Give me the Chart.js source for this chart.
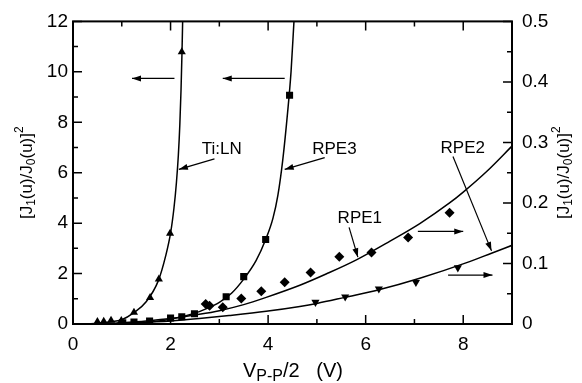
<!DOCTYPE html>
<html>
<head>
<meta charset="utf-8">
<script src="https://cdn.jsdelivr.net/npm/chart.js@4"></script>
<style>
  html, body { margin: 0; padding: 0; background: #fff; }
</style>
</head>
<body>
<canvas id="myChart" width="582" height="383"></canvas>
<script>
// measured points (left axis: Ti:LN, RPE3 ; right axis: RPE1, RPE2)
let tiX = [0.50, 0.63, 0.78, 0.99, 1.25, 1.58, 1.76, 1.99, 2.23];
let tiY = [0.09, 0.10, 0.14, 0.13, 0.46, 1.04, 1.78, 3.59, 10.79];
let rpe3X = [1.02, 1.25, 1.57, 2.0, 2.23, 2.49, 3.14, 3.50, 3.95, 4.44];
let rpe3Y = [0.05, 0.08, 0.12, 0.24, 0.29, 0.41, 1.08, 1.88, 3.35, 9.07];
let rpe1X = [2.72, 2.80, 3.07, 3.45, 3.86, 4.34, 4.87, 5.46, 6.12, 6.87, 7.72];
let rpe1Y = [0.033, 0.030, 0.0275, 0.042, 0.054, 0.069, 0.085, 0.111, 0.118, 0.143, 0.184];
let rpe2X = [4.97, 5.58, 6.27, 7.03, 7.89];
let rpe2Y = [0.036, 0.045, 0.058, 0.069, 0.093];

// fitted curves
let tiFitX = [0.3, 0.5, 0.75, 1.0, 1.25, 1.5, 1.75, 1.9, 2.0, 2.07, 2.12, 2.16, 2.19, 2.215, 2.235, 2.25];
let tiFitY = [0, 0.03, 0.08, 0.17, 0.45, 0.88, 1.72, 2.7, 3.6, 4.6, 5.6, 6.7, 7.9, 9.3, 10.8, 12.2];
let rpe3FitX = [0.8, 1.1, 1.5, 2.0, 2.5, 2.75, 3.0, 3.25, 3.5, 3.75, 3.95, 4.1, 4.2, 4.3, 4.4, 4.47, 4.53];
let rpe3FitY = [0, 0.02, 0.07, 0.19, 0.43, 0.62, 0.86, 1.22, 1.78, 2.5, 3.35, 4.2, 5.1, 6.5, 8.4, 10.0, 12.0];
let rpe1FitX = [0.6, 1.0, 1.5, 2.0, 2.59, 3.0, 3.5, 3.96, 4.65, 5.2, 5.81, 6.5, 7.11, 7.72, 8.0, 8.48, 9.0];
let rpe1FitY = [0, 0.002, 0.005, 0.009, 0.016, 0.022, 0.032, 0.044, 0.064, 0.083, 0.106, 0.137, 0.166, 0.200, 0.218, 0.252, 0.294];
let rpe2FitX = [0.5, 1.0, 1.5, 2.0, 2.59, 3.2, 3.96, 4.65, 5.0, 5.57, 6.29, 7.11, 8.13, 8.58, 9.0];
let rpe2FitY = [0, 0.001, 0.003, 0.005, 0.009, 0.014, 0.021, 0.029, 0.034, 0.044, 0.057, 0.0756, 0.103, 0.117, 0.130];

// labels and arrows, in x / left-axis units
let noteText = ['Ti:LN', 'RPE3', 'RPE1', 'RPE2'];
let noteX = [3.05, 5.36, 5.88, 7.99];
let noteY = [6.94, 6.94, 4.18, 6.96];
let arrows = [
  [2.90, 6.55, 2.17, 6.13],
  [5.16, 6.60, 4.34, 6.13],
  [5.66, 3.83, 5.84, 2.65],
  [7.79, 6.64, 8.58, 2.90],
  [7.07, 3.67, 8.00, 3.67],
  [7.69, 1.94, 8.60, 1.94],
  [2.08, 9.74, 1.21, 9.74],
  [4.34, 9.74, 3.07, 9.74]
];

const FONT = '"Liberation Sans", Arial, sans-serif';

function pts(xs, ys) {
  return xs.map((x, i) => ({ x: x, y: ys[i] }));
}

function richText(c, parts, x, y, size, small) {
  small = small || 0.7;
  let w = 0;
  parts.forEach(p => {
    c.font = (p[1] === 'n' ? size : Math.round(size * small)) + 'px ' + FONT;
    w += c.measureText(p[0]).width;
  });
  let cx = x - w / 2;
  c.textAlign = 'left';
  c.textBaseline = 'middle';
  parts.forEach(p => {
    let s = p[1] === 'n' ? size : Math.round(size * small);
    c.font = s + 'px ' + FONT;
    let dy = p[1] === 'sub' ? size * 0.3 : (p[1] === 'sup' ? -size * 0.42 : 0);
    c.fillText(p[0], cx, y + dy);
    cx += c.measureText(p[0]).width;
  });
}

function arrow(c, x1, y1, x2, y2) {
  c.beginPath();
  c.moveTo(x1, y1);
  c.lineTo(x2, y2);
  c.stroke();
  let a = Math.atan2(y2 - y1, x2 - x1);
  c.beginPath();
  c.moveTo(x2, y2);
  c.lineTo(x2 - 9 * Math.cos(a) + 3 * Math.sin(a), y2 - 9 * Math.sin(a) - 3 * Math.cos(a));
  c.lineTo(x2 - 9 * Math.cos(a) - 3 * Math.sin(a), y2 - 9 * Math.sin(a) + 3 * Math.cos(a));
  c.closePath();
  c.fill();
}

const yTitle = [['[J', 'n'], ['1', 'sub'], ['(u)/J', 'n'], ['0', 'sub'], ['(u)]', 'n'], ['2', 'sup']];

const decor = {
  id: 'decor',
  afterDraw(chart) {
    const c = chart.ctx;
    const a = chart.chartArea;
    const xs = chart.scales.x, ys = chart.scales.y, y1 = chart.scales.y1;
    c.save();
    c.strokeStyle = '#000';
    c.fillStyle = '#000';

    // inward ticks
    c.lineWidth = 1.5;
    c.beginPath();
    for (let v = 0; v <= 9; v++) {
      let px = xs.getPixelForValue(v), len = v % 2 === 0 ? 9 : 5;
      c.moveTo(px, a.bottom); c.lineTo(px, a.bottom - len);
      c.moveTo(px, a.top); c.lineTo(px, a.top + len);
    }
    for (let v = 0; v <= 12; v++) {
      let py = ys.getPixelForValue(v), len = v % 2 === 0 ? 9 : 5;
      c.moveTo(a.left, py); c.lineTo(a.left + len, py);
    }
    for (let i = 0; i <= 10; i++) {
      let py = y1.getPixelForValue(i * 0.05), len = i % 2 === 0 ? 9 : 5;
      c.moveTo(a.right, py); c.lineTo(a.right - len, py);
    }
    c.stroke();

    // frame
    c.lineWidth = 2;
    c.strokeRect(a.left, a.top, a.right - a.left, a.bottom - a.top);

    // notes and arrows
    c.lineWidth = 1.2;
    arrows.forEach(r => {
      arrow(c, xs.getPixelForValue(r[0]), ys.getPixelForValue(r[1]),
               xs.getPixelForValue(r[2]), ys.getPixelForValue(r[3]));
    });
    noteText.forEach((t, i) => {
      richText(c, [[t, 'n']], xs.getPixelForValue(noteX[i]), ys.getPixelForValue(noteY[i]), 17);
    });

    // axis titles
    richText(c, [['V', 'n'], ['P-P', 'sub'], ['/2   (V)', 'n']], 293, 371, 20, 0.78);
    let mid = (a.top + a.bottom) / 2;
    c.save();
    c.translate(27, mid);
    c.rotate(-Math.PI / 2);
    richText(c, yTitle, 0, 0, 17);
    c.restore();
    c.save();
    c.translate(564, mid);
    c.rotate(-Math.PI / 2);
    richText(c, yTitle, 0, 0, 17);
    c.restore();
    c.restore();
  }
};

const curve = (xs, ys, axis) => ({
  data: pts(xs, ys), yAxisID: axis, showLine: true, pointRadius: 0,
  borderColor: '#000', borderWidth: 1.5, cubicInterpolationMode: 'monotone', fill: false
});
const marks = (xs, ys, axis, style, r, rot) => ({
  data: pts(xs, ys), yAxisID: axis, showLine: false, pointStyle: style,
  pointRadius: r, pointRotation: rot || 0, backgroundColor: '#000', borderColor: '#000', borderWidth: 0
});

const tickFont = { family: FONT, size: 19 };
const ctx = document.getElementById('myChart').getContext('2d');
const myChart = new Chart(ctx, {
  type: 'scatter',
  data: {
    datasets: [
      curve(tiFitX, tiFitY, 'y'),
      curve(rpe3FitX, rpe3FitY, 'y'),
      curve(rpe1FitX, rpe1FitY, 'y1'),
      curve(rpe2FitX, rpe2FitY, 'y1'),
      marks(tiX, tiY, 'y', 'triangle', 4.7),
      marks(rpe3X, rpe3Y, 'y', 'rect', 5),
      marks(rpe1X, rpe1Y, 'y1', 'rectRot', 5),
      marks(rpe2X, rpe2Y, 'y1', 'triangle', 4.7, 180)
    ]
  },
  options: {
    responsive: false,
    animation: false,
    layout: { padding: { top: 11, left: 0, right: 0, bottom: 0 } },
    plugins: { legend: { display: false }, tooltip: { enabled: false } },
    scales: {
      x: {
        type: 'linear', min: 0, max: 9,
        grid: { display: false, drawTicks: false }, border: { display: false },
        ticks: {
          stepSize: 1, font: tickFont, color: '#000', padding: 9, maxRotation: 0, autoSkip: false,
          callback: v => (v % 2 === 0 ? v : '')
        },
        afterFit: s => { s.height = 59; }
      },
      y: {
        position: 'left', min: 0, max: 12,
        grid: { display: false, drawTicks: false }, border: { display: false },
        ticks: { stepSize: 2, font: tickFont, color: '#000', padding: 5 },
        afterFit: s => { s.width = 73; }
      },
      y1: {
        position: 'right', min: 0, max: 0.5,
        grid: { display: false, drawTicks: false }, border: { display: false },
        ticks: { stepSize: 0.1, font: tickFont, color: '#000', padding: 10 },
        afterFit: s => { s.width = 70; }
      }
    }
  },
  plugins: [decor]
});
</script>
</body>
</html>
